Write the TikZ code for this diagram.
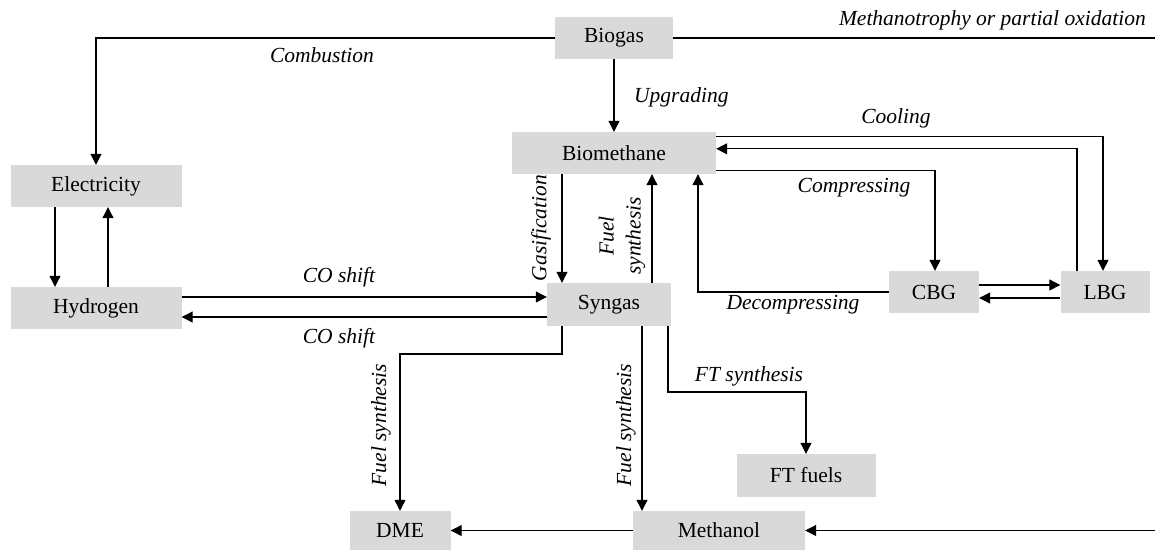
\documentclass[tikz,border=0pt]{standalone}
\usepackage{fontspec}
\setmainfont{Liberation Serif}
\usetikzlibrary{arrows.meta}
\definecolor{boxgray}{HTML}{D9D9D9}
\begin{document}
\begin{tikzpicture}[x=1pt,y=-1pt,
  box/.style={fill=boxgray, inner sep=0pt, font=\fontsize{21.5}{25}\selectfont},
  lbl/.style={font=\fontsize{21.5}{27}\selectfont\itshape, inner sep=0pt},
  conn/.style={line width=1.1pt},
  arr/.style={conn, -{Triangle[length=11pt,width=11pt]}},
]
\useasboundingbox (0,0) rectangle (1155,550);
% nodes
\node[box, minimum width=118pt, minimum height=42pt] (biogas) at (614,38) {Biogas};
\node[box, minimum width=204pt, minimum height=42pt] (biomethane) at (614,153) {Biomethane};
\node[box, minimum width=171pt, minimum height=42pt] (electricity) at (96,186) {Electricity};
\node[box, minimum width=171pt, minimum height=42pt] (hydrogen) at (96,308) {Hydrogen};
\node[box, minimum width=124pt, minimum height=43pt] (syngas) at (609,304.5) {Syngas};
\node[box, minimum width=90pt, minimum height=42pt] (cbg) at (934,292) {CBG};
\node[box, minimum width=89pt, minimum height=42pt] (lbg) at (1105,292) {LBG};
\node[box, minimum width=139pt, minimum height=43pt] (ftfuels) at (806,475.5) {FT fuels};
\node[box, minimum width=101pt, minimum height=39pt] (dme) at (400,530.5) {DME};
\node[box, minimum width=172pt, minimum height=39pt] (methanol) at (719,530.5) {Methanol};
% helper coordinates
\coordinate (rout) at (1155,38);
\coordinate (rin) at (1155,530.5);
\coordinate (gx) at (562,0);
\coordinate (fx) at (652,0);
\coordinate (mx) at (642,0);
\coordinate (ftx) at (668,0);
\coordinate (e1x) at (55,0);
\coordinate (e2x) at (108,0);
\coordinate (h1) at (0,297);
\coordinate (h2) at (0,317);
\coordinate (d354) at (0,354);
\coordinate (f392) at (0,392);
% connectors
\draw[arr] (biogas.west) -| (electricity.north);
\draw[conn] (biogas.east) -- (rout);
\draw[arr] (rin) -- (methanol.east);
\draw[arr] (biogas.south) -- (biomethane.north);
\draw[arr] ([yshift=-5pt]biomethane.north east) -| ([xshift=-2pt]lbg.north);
\draw[arr] ([xshift=-28pt]lbg.north) |- ([yshift=-17pt]biomethane.north east);
\draw[arr] ([yshift=4pt]biomethane.south east) -| ([xshift=1pt]cbg.north);
\draw[arr] (cbg.west) -| ([xshift=84pt]biomethane.south);
\draw[arr] ([yshift=7pt]cbg.east) -- ([yshift=7pt]lbg.west);
\draw[arr] ([yshift=-6pt]lbg.west) -- ([yshift=-6pt]cbg.east);
\draw[arr] (gx |- biomethane.south) -- (gx |- syngas.north);
\draw[arr] (fx |- syngas.north) -- (fx |- biomethane.south);
\draw[arr] (e1x |- electricity.south) -- (e1x |- hydrogen.north);
\draw[arr] (e2x |- hydrogen.north) -- (e2x |- electricity.south);
\draw[arr] (hydrogen.east |- h1) -- (syngas.west |- h1);
\draw[arr] (syngas.west |- h2) -- (hydrogen.east |- h2);
\draw[arr] (gx |- syngas.south) -- (gx |- d354) -| (dme.north);
\draw[arr] (mx |- syngas.south) -- (mx |- methanol.north);
\draw[arr] (ftx |- syngas.south) -- (ftx |- f392) -| (ftfuels.north);
\draw[arr] (methanol.west) -- (dme.east);
% labels
\node[lbl, anchor=east] (lmeth) at (1146,20) {Methanotrophy or partial oxidation};
\node[lbl] (lcomb) at (322,55) {Combustion};
\node[lbl, anchor=west] (lupg) at (634,97) {Upgrading};
\node[lbl] (lcool) at (896,118) {Cooling};
\node[lbl] (lcomp) at (854,188) {Compressing};
\node[lbl] (ldecomp) at (793,305) {Decompressing};
\node[lbl, rotate=90] (lgas) at (541,228) {Gasification};
\node[lbl, rotate=90, align=center] (lfs1) at (622,236) {Fuel\\synthesis};
\node[lbl] (lco1) at (339,277) {CO shift};
\node[lbl] (lco2) at (339,338) {CO shift};
\node[lbl, rotate=90] (lfs2) at (381,425) {Fuel synthesis};
\node[lbl, rotate=90] (lfs3) at (626,425) {Fuel synthesis};
\node[lbl] (lft) at (749,376) {FT synthesis};
\end{tikzpicture}
\end{document}
